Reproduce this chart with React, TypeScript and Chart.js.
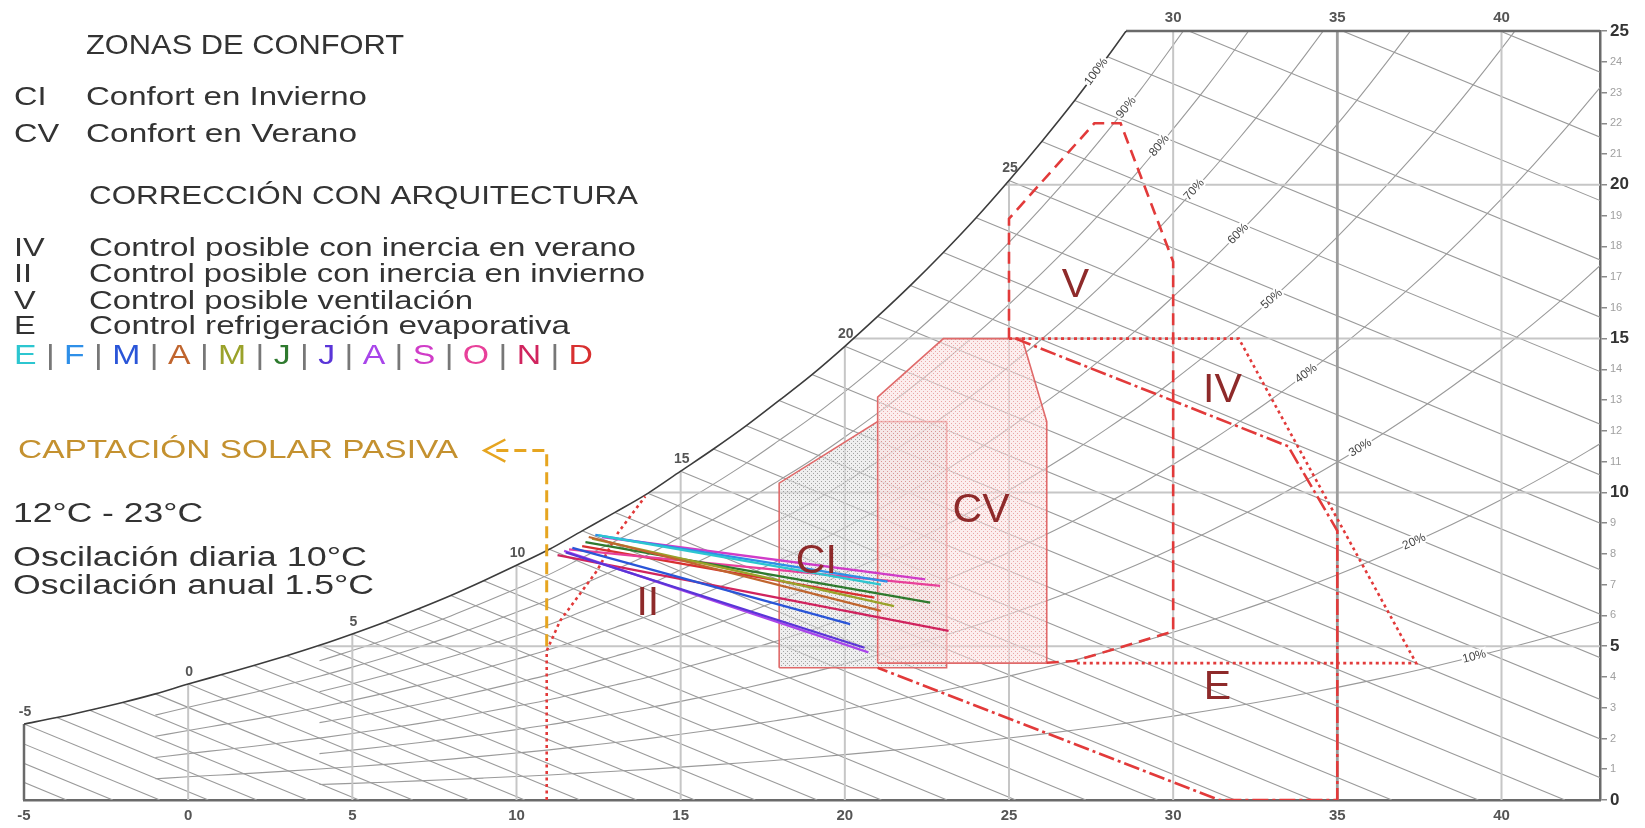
import React, { useEffect, useRef } from "react";
import { Chart, registerables } from "chart.js";

Chart.register(...registerables);

// ---------------- DATA ----------------
// Saturation humidity ratio (g/kg) at sea level, by dry-bulb temperature (°C)
const SAT_T = [-15,-14,-13,-12,-11,-10,-9,-8,-7,-6,-5,-4,-3,-2,-1,0,1,2,3,4,5,6,7,8,9,10,11,12,13,14,15,16,17,18,19,20,21,22,23,24,25,26,27,28,29,30,31,32,33,34,35,36,37,38,39,40,41,42,43];
const SAT_W = [0.97,1.07,1.18,1.30,1.43,1.57,1.72,1.89,2.07,2.26,2.47,2.68,2.92,3.17,3.45,3.77,4.07,4.37,4.69,5.03,5.40,5.79,6.21,6.65,7.13,7.63,8.15,8.75,9.35,9.97,10.69,11.41,12.17,12.99,13.83,14.75,15.72,16.73,17.80,18.93,20.14,21.41,22.74,24.16,25.65,27.27,28.94,30.71,32.57,34.55,36.62,38.82,41.13,43.56,46.14,48.85,51.71,54.72,57.90];

const X_TICKS = [-5,0,5,10,15,20,25,30,35,40];
const X_TOP_TICKS = [30,35,40];
const Y_TICKS = [0,1,2,3,4,5,6,7,8,9,10,11,12,13,14,15,16,17,18,19,20,21,22,23,24,25];

const RH_LEVELS = [10,20,30,40,50,60,70,80,90];
const RH_START_T = [4,-1,4,-1,4,-1,4,-1,4];
const RH_LABEL_T = [39.17,37.34,35.7,34.05,33.0,31.98,30.64,29.58,28.57];
const SAT_LABEL_T = [-5,0,5,10,15,20,25];

const WB_T = [-9,-8,-7,-6,-5,-4,-3,-2,-1,0,1,2,3,4,5,6,7,8,9,10,11,12,13,14,15,16,17,18,19,20,21,22,23,24,25,26,27,28,29,30,31];
const WB_SLOPE = 0.44;

const V_GRID_T = [-5,0,5,10,15,20,25,30,35,40];
const V_GRID_TOP = [2.47,3.77,5.40,7.63,10.69,14.75,20.14,25,25,25];
const H_GRID_W = [5,10,15,20];
const H_GRID_START = [3.96,14.05,20.25,24.91];

// Comfort / correction zones
const CI_T = [18.0,18.0,21.0,23.1,23.1,18.0];
const CI_W = [4.3,10.3,12.3,12.3,4.3,4.3];
const CV_T = [21.0,21.0,23.0,25.4,26.15,26.15,21.0];
const CV_W = [4.45,13.1,15.0,15.0,12.3,4.45,4.45];
const V_T = [26.15,27.0,30.0,30.0,28.4,27.6,25.0,25.0];
const V_W = [4.46,4.52,5.48,17.5,22.0,22.0,18.9,15.0];
const IV_T = [25.0,32.0,37.4,27.0];
const IV_W = [15.0,15.0,4.45,4.45];
const E_T = [25.2,33.5,35.0,35.0,31.4,21.0];
const E_W = [15.0,11.5,8.75,0,0,4.3];
const II_T = [10.92,10.92,11.33,12.45,13.1,13.92];
const II_W = [0,4.85,5.83,7.45,8.7,9.87];
const SOLAR_T = [10.92,10.92,9.3];
const SOLAR_W = [5.0,11.36,11.36];
const ARROW_T = [9.66,9.02,9.66];
const ARROW_W = [11.72,11.36,11.0];

const ZONE_LABELS = ["V","IV","CV","CI","II","E"];
const ZONE_LABEL_T = [27.02,31.5,24.15,19.13,14.0,31.35];
const ZONE_LABEL_W = [16.73,13.3,9.4,7.74,6.38,3.66];

// Monthly lines (min temp / max humidity  ->  max temp / min humidity)
const MONTHS = ["E","F","M","A","M","J","J","A","S","O","N","D"];
const MONTH_COLORS = ["#2cc6d0","#2e8fe8","#2a55d8","#c0652e","#9aa22a","#2e7a2e","#5a35d8","#a845ea","#d03cc8","#e8409a","#d0245e","#d83030"];
const MONTH_T_MIN = [12.5,12.4,11.7,12.2,12.3,12.1,11.5,11.45,12.6,11.6,11.25,12.0];
const MONTH_W_MAX = [8.6,8.62,8.2,8.55,8.5,8.38,8.05,8.1,8.55,8.15,7.96,8.25];
const MONTH_T_MAX = [21.1,21.3,20.16,21.1,21.5,22.6,20.6,20.72,22.45,22.9,23.16,20.9];
const MONTH_W_MIN = [7.0,7.1,5.72,6.15,6.3,6.42,4.95,4.8,7.17,6.96,5.5,6.58];

// ---------------- helpers ----------------
const FONT = '"Liberation Sans", Arial, sans-serif';
const satAt = (t: number) => {
  for (let i = 0; i < SAT_T.length - 1; i++) {
    if (t >= SAT_T[i] && t <= SAT_T[i + 1]) {
      const f = (t - SAT_T[i]) / (SAT_T[i + 1] - SAT_T[i]);
      return SAT_W[i] + f * (SAT_W[i + 1] - SAT_W[i]);
    }
  }
  return SAT_W[SAT_W.length - 1];
};
const zip = (ts: number[], ws: number[]) => ts.map((t, i) => ({ x: t, y: ws[i] }));

function makePattern(base: string, dot: string) {
  const c = document.createElement("canvas");
  c.width = 4; c.height = 4;
  const g = c.getContext("2d")!;
  g.fillStyle = base; g.fillRect(0, 0, 4, 4);
  g.fillStyle = dot; g.fillRect(1, 1, 1, 1); g.fillRect(3, 3, 1, 1);
  return g.createPattern(c, "repeat");
}

function drawFit(ctx: CanvasRenderingContext2D, text: string, x: number, cy: number, size: number, color: string, width?: number, sx0 = 1.25, weight = "normal") {
  ctx.font = `${weight} ${size}px ${FONT}`;
  ctx.fillStyle = color;
  ctx.textAlign = "left";
  ctx.textBaseline = "alphabetic";
  const natural = ctx.measureText(text).width;
  const sx = width ? width / natural : sx0;
  ctx.save();
  ctx.translate(x, cy + size * 0.36);
  ctx.scale(sx, 1);
  ctx.fillText(text, 0, 0);
  ctx.restore();
}

const LEFT_TEXT: { t: string; x: number; y: number; w?: number; size: number; color?: string }[] = [
  { t: "ZONAS DE CONFORT", x: 86, y: 44, w: 318, size: 27 },
  { t: "CI", x: 14, y: 95.5, size: 26 },
  { t: "Confort en Invierno", x: 86, y: 95.5, w: 281, size: 26 },
  { t: "CV", x: 14, y: 133, size: 26 },
  { t: "Confort en Verano", x: 86, y: 133, w: 271, size: 26 },
  { t: "CORRECCIÓN CON ARQUITECTURA", x: 89, y: 195, w: 549, size: 26 },
  { t: "IV", x: 14, y: 246.5, size: 26 },
  { t: "Control posible con inercia en verano", x: 89, y: 246.5, w: 547, size: 26 },
  { t: "II", x: 14, y: 273, size: 26 },
  { t: "Control posible con inercia en invierno", x: 89, y: 273, w: 556, size: 26 },
  { t: "V", x: 14, y: 300, size: 26 },
  { t: "Control posible ventilación", x: 89, y: 300, w: 384, size: 26 },
  { t: "E", x: 14, y: 325, size: 26 },
  { t: "Control refrigeración evaporativa", x: 89, y: 325, w: 481, size: 26 },
  { t: "CAPTACIÓN SOLAR PASIVA", x: 18, y: 449, w: 440, size: 26, color: "#c4912f" },
  { t: "12°C - 23°C", x: 13, y: 512, w: 190, size: 27 },
  { t: "Oscilación diaria 10°C", x: 13, y: 556, w: 354, size: 27 },
  { t: "Oscilación anual 1.5°C", x: 13, y: 584, w: 361, size: 27 },
];

const textPlugin = {
  id: "psychroTexts",
  afterDatasetsDraw(chart: any) {
    const ctx: CanvasRenderingContext2D = chart.ctx;
    const xs = chart.scales.x, ys = chart.scales.y;
    const px = (t: number) => xs.getPixelForValue(t);
    const py = (w: number) => ys.getPixelForValue(w);
    ctx.save();

    // saturation-curve temperature labels
    ctx.font = `bold 14px ${FONT}`;
    ctx.fillStyle = "#555";
    ctx.textAlign = "center";
    ctx.textBaseline = "middle";
    SAT_LABEL_T.forEach((t) => {
      ctx.fillText(String(t), px(t) + 1, py(satAt(t)) - 12);
    });

    // relative humidity labels
    const rhLabel = (frac: number, t: number, txt: string) => {
      const x1 = px(t - 0.4), y1 = py(frac * satAt(t - 0.4));
      const x2 = px(t + 0.4), y2 = py(frac * satAt(t + 0.4));
      const a = Math.atan2(y2 - y1, x2 - x1);
      ctx.save();
      ctx.translate(px(t), py(frac * satAt(t)));
      ctx.rotate(a);
      ctx.font = `12px ${FONT}`;
      ctx.textAlign = "center";
      ctx.textBaseline = "middle";
      ctx.lineWidth = 4;
      ctx.strokeStyle = "#fff";
      ctx.strokeText(txt, 0, 0);
      ctx.fillStyle = "#444";
      ctx.fillText(txt, 0, 0);
      ctx.restore();
    };
    RH_LEVELS.forEach((rh, i) => rhLabel(rh / 100, RH_LABEL_T[i], rh + "%"));
    rhLabel(1, 27.66, "100%");

    // zone labels
    ctx.font = `41px ${FONT}`;
    ctx.fillStyle = "#8e2a2a";
    ctx.textAlign = "center";
    ctx.textBaseline = "middle";
    ZONE_LABELS.forEach((s, i) => ctx.fillText(s, px(ZONE_LABEL_T[i]), py(ZONE_LABEL_W[i])));

    // left text block
    LEFT_TEXT.forEach((l) => drawFit(ctx, l.t, l.x, l.y, l.size, l.color || "#333", l.w));

    // month legend row
    const pieces: { s: string; c: string }[] = [];
    MONTHS.forEach((m, i) => {
      if (i > 0) pieces.push({ s: " | ", c: "#777" });
      pieces.push({ s: m, c: MONTH_COLORS[i] });
    });
    ctx.font = `27px ${FONT}`;
    const total = ctx.measureText(pieces.map((p) => p.s).join("")).width;
    const sx = (593 - 14) / total;
    ctx.save();
    ctx.translate(14, 354.6 + 27 * 0.36);
    ctx.scale(sx, 1);
    ctx.textAlign = "left";
    ctx.textBaseline = "alphabetic";
    let cx = 0;
    pieces.forEach((p) => {
      ctx.fillStyle = p.c;
      ctx.fillText(p.s, cx, 0);
      cx += ctx.measureText(p.s).width;
    });
    ctx.restore();

    ctx.restore();
  },
};

export default function App() {
  const ref = useRef<HTMLCanvasElement>(null);

  useEffect(() => {
    const canvas = ref.current!;
    const datasets: any[] = [];
    const line = (data: any[], o: any) => datasets.push({ data, pointRadius: 0, fill: false, ...o });

    // wet-bulb lines
    WB_T.forEach((t) => {
      const w0 = satAt(t);
      line([{ x: t, y: w0 }, { x: t + w0 / WB_SLOPE, y: 0 }], { borderColor: "#9a9a9a", borderWidth: 1.1, clip: 0, order: 100 });
    });
    // relative humidity curves
    RH_LEVELS.forEach((rh, i) => {
      const pts = SAT_T.filter((t) => t >= RH_START_T[i]).map((t) => ({ x: t, y: (rh / 100) * satAt(t) }));
      line(pts, { borderColor: "#9a9a9a", borderWidth: 1.1, clip: 0, order: 100, cubicInterpolationMode: "monotone" });
    });
    // vertical grid lines (up to saturation)
    V_GRID_T.forEach((t, i) => {
      const isEdge = t === -5;
      const is35 = t === 35;
      line([{ x: t, y: 0 }, { x: t, y: V_GRID_TOP[i] }], {
        borderColor: isEdge ? "#6a6a6a" : is35 ? "#9c9c9c" : "#c6c6c6",
        borderWidth: isEdge ? 2.5 : is35 ? 2.8 : 2,
        clip: isEdge ? 4 : 0,
        order: 90,
      });
    });
    // horizontal grid lines (from saturation)
    H_GRID_W.forEach((w, i) => {
      line([{ x: H_GRID_START[i], y: w }, { x: 43, y: w }], { borderColor: "#c6c6c6", borderWidth: 2, clip: 0, order: 90 });
    });
    // saturation curve
    const satPts = SAT_T.filter((t) => t >= -5 && t <= 29).map((t) => ({ x: t, y: satAt(t) }));
    line(satPts, { borderColor: "#3c3c3c", borderWidth: 1.6, clip: 0, order: 80, cubicInterpolationMode: "monotone" });
    // top border
    line([{ x: 28.56, y: 25 }, { x: 43, y: 25 }], { borderColor: "#6a6a6a", borderWidth: 2.5, clip: 4, order: 80 });

    // comfort zones
    line(zip(CI_T, CI_W), { borderColor: "#e06a6a", borderWidth: 1.6, fill: "shape", backgroundColor: makePattern("rgba(228,228,228,0.6)", "rgba(110,110,110,0.6)"), order: 60 });
    line(zip(CV_T, CV_W), { borderColor: "#e06a6a", borderWidth: 1.6, fill: "shape", backgroundColor: makePattern("rgba(250,226,226,0.6)", "rgba(220,110,110,0.55)"), order: 55 });

    const red = "#e23a3a";
    line(zip(V_T, V_W), { borderColor: red, borderWidth: 2.6, borderDash: [12, 7], order: 40 });
    line(zip(IV_T, IV_W), { borderColor: red, borderWidth: 2.6, borderDash: [3, 3.5], order: 40 });
    line(zip(E_T, E_W), { borderColor: red, borderWidth: 2.6, borderDash: [16, 4, 3, 4], order: 40 });
    line(zip(II_T, II_W), { borderColor: red, borderWidth: 2.6, borderDash: [3, 3.5], order: 40 });

    // passive solar marker
    line(zip(SOLAR_T, SOLAR_W), { borderColor: "#e6a520", borderWidth: 3, borderDash: [12, 6], order: 35 });
    line(zip(ARROW_T, ARROW_W), { borderColor: "#e6a520", borderWidth: 2.5, order: 35 });

    // monthly lines
    MONTHS.forEach((m, i) => {
      line([{ x: MONTH_T_MIN[i], y: MONTH_W_MAX[i] }, { x: MONTH_T_MAX[i], y: MONTH_W_MIN[i] }], {
        borderColor: MONTH_COLORS[i], borderWidth: 2.3, order: 10 + i, label: m,
      });
    });

    const chart = new Chart(canvas, {
      type: "line",
      data: { datasets },
      options: {
        responsive: false,
        animation: false,
        devicePixelRatio: 1,
        events: [],
        layout: { padding: { left: 24, right: 0, top: 0, bottom: 0 } },
        elements: { point: { radius: 0 }, line: { tension: 0 } },
        plugins: { legend: { display: false }, tooltip: { enabled: false } },
        scales: {
          x: {
            type: "linear",
            position: "bottom",
            min: -5,
            max: 43,
            afterFit: (s: any) => { s.height = 28; },
            afterBuildTicks: (s: any) => { s.ticks = X_TICKS.map((v) => ({ value: v })); },
            grid: { display: false, drawTicks: false },
            border: { display: true, color: "#6a6a6a", width: 2.5 },
            ticks: { padding: 7, autoSkip: false, maxRotation: 0, color: "#555", font: { size: 15, weight: "bold", family: FONT } },
          },
          x2: {
            type: "linear",
            position: "top",
            min: -5,
            max: 43,
            afterFit: (s: any) => { s.height = 31; },
            afterBuildTicks: (s: any) => { s.ticks = X_TOP_TICKS.map((v) => ({ value: v })); },
            grid: { display: false, drawTicks: false },
            border: { display: false },
            ticks: { padding: 4, autoSkip: false, maxRotation: 0, color: "#555", font: { size: 15, weight: "bold", family: FONT } },
          },
          y: {
            type: "linear",
            position: "right",
            min: 0,
            max: 25,
            afterFit: (s: any) => { s.width = 45; },
            afterBuildTicks: (s: any) => { s.ticks = Y_TICKS.map((v) => ({ value: v })); },
            grid: { display: true, drawOnChartArea: false, drawTicks: true, tickLength: 7, color: "#8a8a8a", lineWidth: 1.5 },
            border: { display: true, color: "#6a6a6a", width: 2.5 },
            ticks: {
              padding: 3,
              autoSkip: false,
              color: (c: any) => (c.tick && c.tick.value % 5 === 0 ? "#333" : "#a0a0a0"),
              font: (c: any) => (c.tick && c.tick.value % 5 === 0 ? { size: 17, weight: "bold", family: FONT } : { size: 11, family: FONT }),
            },
          },
        },
      } as any,
      plugins: [textPlugin],
    });
    return () => chart.destroy();
  }, []);

  return (
    <div style={{ position: "fixed", left: 0, top: 0, width: 1645, height: 828, background: "#fff" }}>
      <canvas ref={ref} width={1645} height={828} style={{ display: "block", width: 1645, height: 828 }} />
    </div>
  );
}
